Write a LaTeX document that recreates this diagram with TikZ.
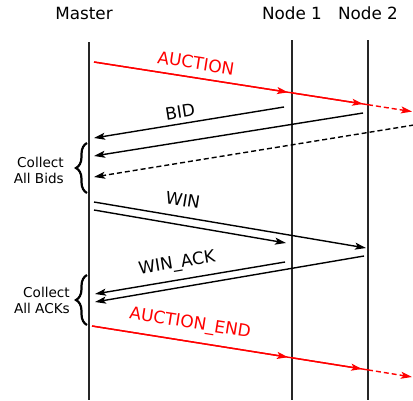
\documentclass[tikz,border=0pt]{standalone}
\usepackage{fontspec}
\setmainfont{DejaVu Sans}
\usetikzlibrary{arrows.meta,decorations.pathreplacing}
\begin{document}
\begin{tikzpicture}[x=1pt,y=-1pt,
  lifeline/.style={line width=1.8pt,black!85},
  msg/.style={line width=1.4pt},
  dsh/.style={dash pattern=on 5pt off 3pt},
  tip/.style={-{Stealth[length=11pt,width=7pt,inset=2.5pt]}},
  head/.style={font=\fontsize{16.8}{19}\selectfont,anchor=base},
  lbl/.style={font=\fontsize{17}{19}\selectfont,inner sep=0pt},
  note/.style={font=\fontsize{13.6}{16}\selectfont,align=right,anchor=east,inner sep=0pt},
  curly/.style={decorate,decoration={brace,amplitude=11pt},line width=2.2pt}]
\useasboundingbox (0,0) rectangle (413,400);

% participants
\node[head] (master) at (84,19) {Master};
\node[head] (n1) at (292,19) {Node 1};
\node[head] (n2) at (368,19) {Node 2};

% lifelines
\coordinate (mT) at (89,42);  \coordinate (mB) at (89,400);
\coordinate (aT) at (292,40); \coordinate (aB) at (292,400);
\coordinate (bT) at (368,40); \coordinate (bB) at (368,400);
\draw[lifeline] (mT) -- (mB);
\draw[lifeline] (aT) -- (aB);
\draw[lifeline] (bT) -- (bB);

% AUCTION broadcast
\coordinate (au0) at (94,62);
\coordinate (au1) at (292,92.9);
\coordinate (au2) at (368,104.7);
\coordinate (au3) at (412,111.6);
\draw[msg,red] (au0) -- (au2);
\draw[msg,red,tip,shorten >=4pt] (au0) -- (au1);
\draw[msg,red,tip,shorten >=5pt] (au1) -- (au2);
\draw[msg,red,dsh,tip] (au2) -- (au3);
\node[lbl,red,rotate=-8.9] (auLbl) at (196,63) {AUCTION};

% BID replies
\coordinate (bd1s) at (284,107);  \coordinate (bd1e) at (94,138);
\coordinate (bd2s) at (363,113);  \coordinate (bd2e) at (94,156);
\coordinate (bd3s) at (414,125);  \coordinate (bd3e) at (94,177);
\draw[msg,tip] (bd1s) -- (bd1e);
\draw[msg,tip] (bd2s) -- (bd2e);
\draw[msg,dsh,tip] (bd3s) -- (bd3e);
\node[lbl,rotate=9.1] (bdLbl) at (180,112) {BID};

% collect bids
\coordinate (br1b) at (87,193); \coordinate (br1t) at (87,143);
\draw[curly] (br1b) -- (br1t);
\node[note] (cBids) at (64,170) {Collect\\All Bids};

% WIN
\coordinate (w1s) at (94,202);  \coordinate (w1e) at (366,248);
\coordinate (w2s) at (94,210);  \coordinate (w2e) at (286,243);
\draw[msg,tip] (w1s) -- (w1e);
\draw[msg,tip] (w2s) -- (w2e);
\node[lbl,rotate=-9.3] (wLbl) at (183,200) {WIN};

% WIN_ACK
\coordinate (k1s) at (285,262);  \coordinate (k1e) at (95,294);
\coordinate (k2s) at (364,256);  \coordinate (k2e) at (95,302);
\draw[msg,tip] (k1s) -- (k1e);
\draw[msg,tip] (k2s) -- (k2e);
\node[lbl,rotate=9.3] (kLbl) at (177,264) {WIN\_ACK};

% collect ACKs
\coordinate (br2b) at (87,325); \coordinate (br2t) at (87,275);
\draw[curly] (br2b) -- (br2t);
\node[note] (cAcks) at (70,300) {Collect\\All ACKs};

% AUCTION_END broadcast
\coordinate (e0) at (92,326);
\coordinate (e1) at (292,357.8);
\coordinate (e2) at (368,369.9);
\coordinate (e3) at (412,377);
\draw[msg,red] (e0) -- (e2);
\draw[msg,red,tip,shorten >=4pt] (e0) -- (e1);
\draw[msg,red,tip,shorten >=6pt] (e1) -- (e2);
\draw[msg,red,dsh,tip] (e2) -- (e3);
\node[lbl,red,rotate=-9] (eLbl) at (190,324) {AUCTION\_END};
\end{tikzpicture}
\end{document}
